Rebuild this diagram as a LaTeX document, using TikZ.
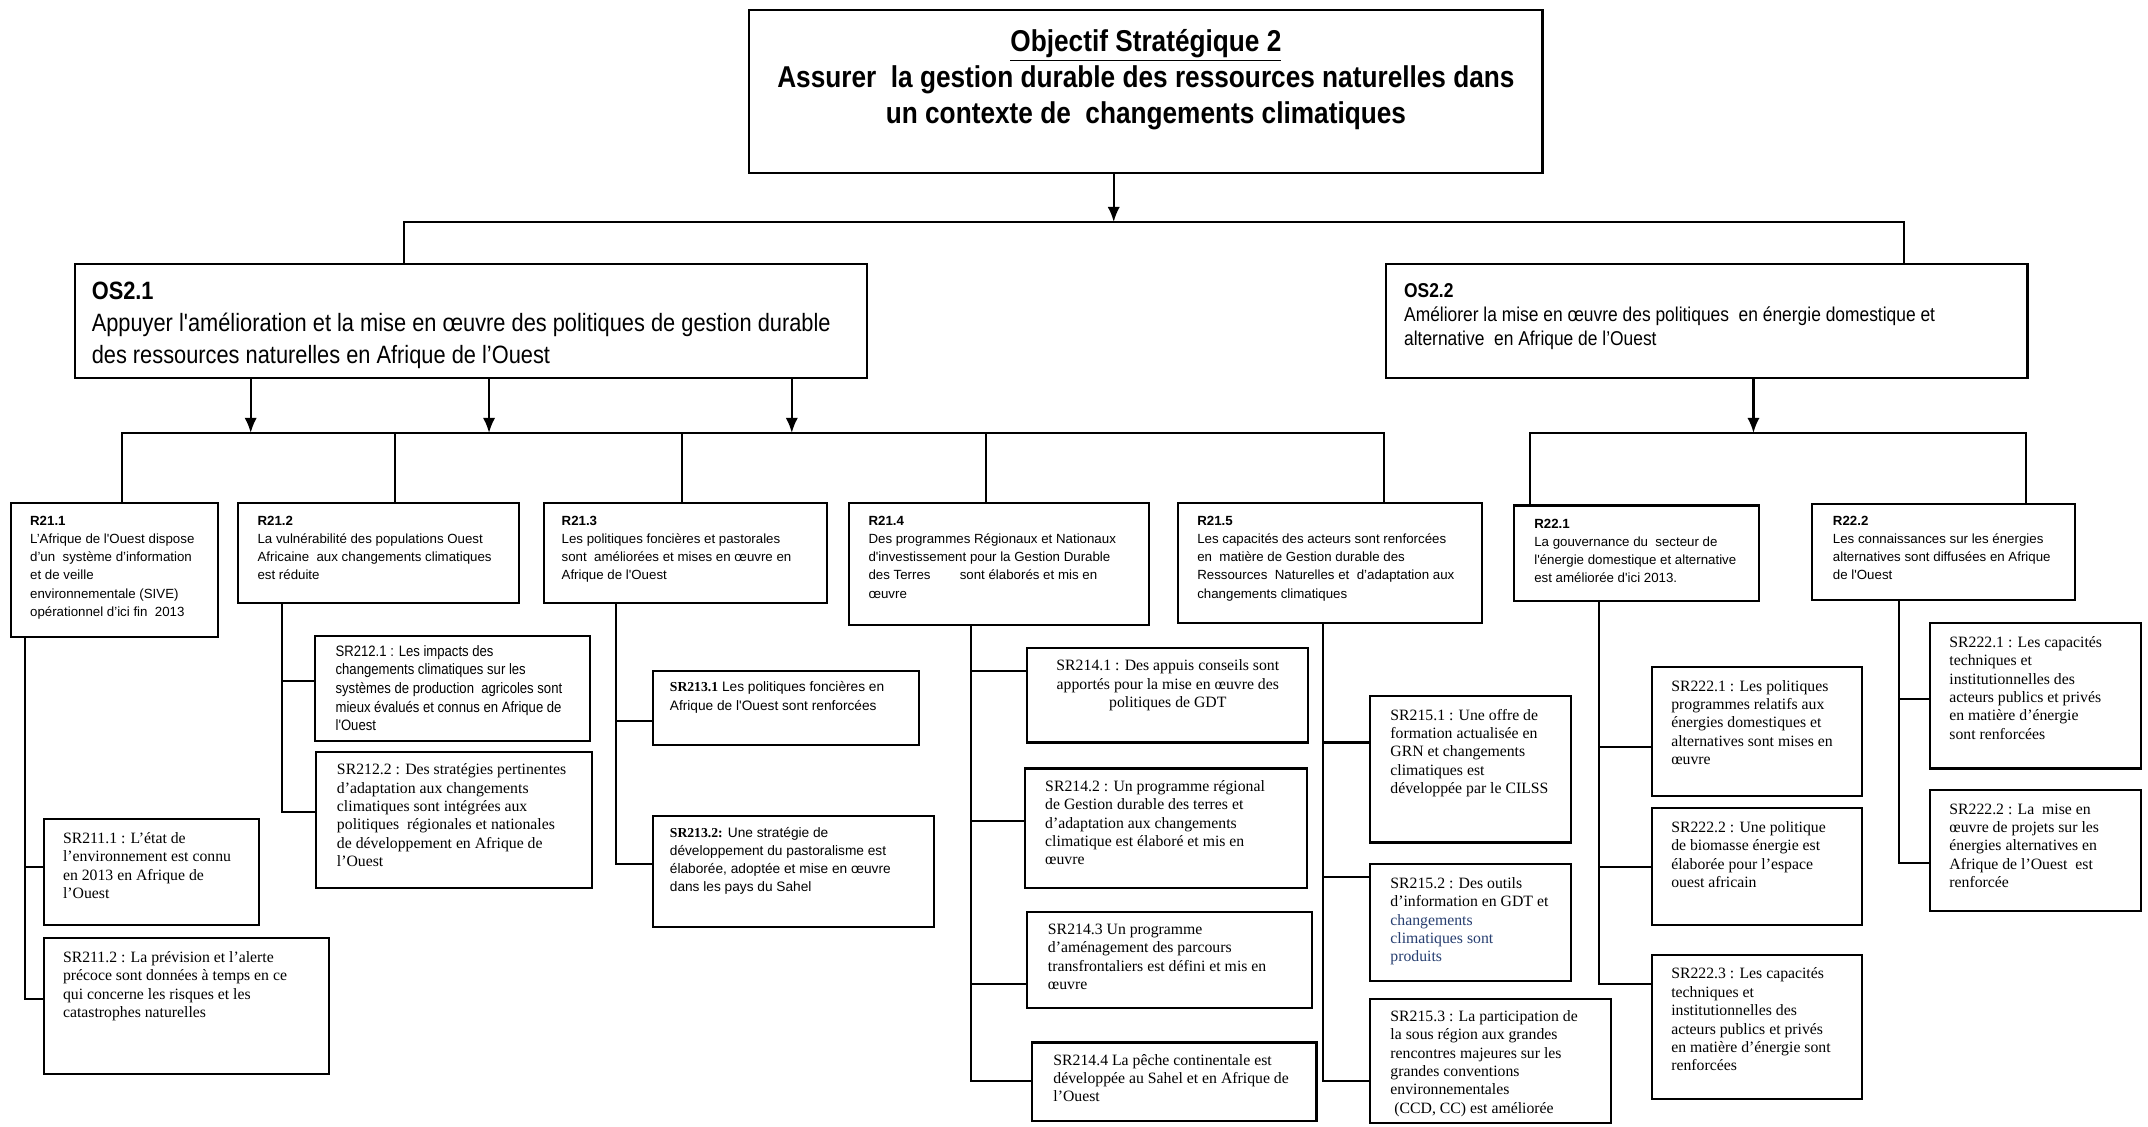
\documentclass[tikz,border=0pt]{standalone}
\usepackage{fontspec}
\usetikzlibrary{arrows.meta}
\newfontfamily\fsans{Liberation Sans}
\newfontfamily\fnarrow[FakeStretch=0.87]{Liberation Sans}
\newfontfamily\fserif{Liberation Serif}
\definecolor{sblue}{RGB}{38,62,112}
\newcommand\mkbx[5]{\node[bx, minimum width={#4-#2}, minimum height={#5-#3}] (#1) at (#2,#3) {};}
\begin{document}
\begin{tikzpicture}[x=1pt,y=-1pt,
 bx/.style={draw, line width=1.5pt, anchor=north west, inner sep=0pt, outer sep=0pt},
 wire/.style={line width=1.5pt},
 arr/.style={line width=1.5pt, -{Latex[length=11pt,width=9pt]}},
 txt/.style={anchor=north west, inner sep=0pt, outer sep=0pt, align=left, execute at begin node=\strut},
 rt/.style={txt, font=\fsans\fontsize{9.7}{13.3}\selectfont, yshift=9.31pt},
 st/.style={txt, font=\fserif\fontsize{11.5}{13.4}\selectfont, yshift=9.38pt},
 atx/.style={txt, font=\fsans\fontsize{10}{13.3}\selectfont, yshift=9.31pt},
 nt/.style={txt, font=\fnarrow\fontsize{11}{13.6}\selectfont, yshift=9.52pt}]
\useasboundingbox (0,0) rectangle (1568,822);
\fill[white] (0,0) rectangle (1568,822);

% ---------- top ----------
\mkbx{top}{547}{7}{1126}{126}
\node[txt, anchor=north, align=center, font=\fnarrow\bfseries\fontsize{22}{26}\selectfont, yshift=18.2pt] (topt) at (836.5,40)
 {\underline{Objectif Stratégique 2}\\Assurer\ \ la gestion durable des ressources naturelles dans\\un contexte de\ \ changements climatiques};

% ---------- OS boxes ----------
\mkbx{os21}{55}{193}{633}{276}
\node[txt, font=\fnarrow\fontsize{18.3}{23.5}\selectfont, yshift=16.45pt] (os21t) at (67,222)
 {\textbf{OS2.1}\\Appuyer l'amélioration et la mise en œuvre des politiques de gestion durable\\des ressources naturelles en Afrique de l’Ouest};
\mkbx{os22}{1012}{193}{1480}{276}
\node[txt, font=\fnarrow\fontsize{14.6}{17.5}\selectfont, yshift=12.25pt] (os22t) at (1025,219)
 {\textbf{OS2.2}\\Améliorer la mise en œuvre des politiques\ \ en énergie domestique et\\alternative\ \ en Afrique de l’Ouest};

% ---------- R boxes ----------
\mkbx{r211}{8}{367}{159}{465}
\node[rt] (r211t) at (22,386) {\textbf{R21.1}\\L’Afrique de l'Ouest dispose\\d’un\ \ système d’information\\et de veille\\environnementale (SIVE)\\opérationnel d’ici fin\ \ 2013};
\mkbx{r212}{174}{367}{379}{440}
\node[rt] (r212t) at (188,386) {\textbf{R21.2}\\La vulnérabilité des populations Ouest\\Africaine\ \ aux changements climatiques\\est réduite};
\mkbx{r213}{397}{367}{604}{440}
\node[rt] (r213t) at (410,386) {\textbf{R21.3}\\Les politiques foncières et pastorales\\sont\ \ améliorées et mises en œuvre en\\Afrique de l'Ouest};
\mkbx{r214}{620}{367}{839}{456}
\node[rt] (r214t) at (634,386) {\textbf{R21.4}\\Des programmes Régionaux et Nationaux\\d'investissement pour la Gestion Durable\\des Terres\hspace{2.2em}sont élaborés et mis en\\œuvre};
\mkbx{r215}{860}{367}{1082}{455}
\node[rt] (r215t) at (874,386) {\textbf{R21.5}\\Les capacités des acteurs sont renforcées\\en\ \ matière de Gestion durable des\\Ressources\ \ Naturelles et\ \ d’adaptation aux\\changements climatiques};
\mkbx{r221}{1105}{369}{1284}{439}
\node[rt] (r221t) at (1120,388) {\textbf{R22.1}\\La gouvernance du\ \ secteur de\\l'énergie domestique et alternative\\est améliorée d'ici 2013.};
\mkbx{r222}{1323}{368}{1515}{438}
\node[rt] (r222t) at (1338,386) {\textbf{R22.2}\\Les connaissances sur les énergies\\alternatives sont diffusées en Afrique\\de l'Ouest};

% ---------- SR boxes ----------
\mkbx{sr2111}{32}{598}{189}{675}
\node[st] (sr2111t) at (46,617) {SR211.1 : L’état de\\l’environnement est connu\\en 2013 en Afrique de\\l’Ouest};
\mkbx{sr2112}{32}{685}{240}{784}
\node[st] (sr2112t) at (46,704) {SR211.2 : La prévision et l’alerte\\précoce sont données à temps en ce\\qui concerne les risques et les\\catastrophes naturelles};

\begin{scope}
\clip (230,464) rectangle (431,534);
\node[nt] (sr2121t) at (245,480.6) {SR212.1 : Les impacts des\\changements climatiques sur les\\systèmes de production\ \ agricoles sont\\mieux évalués et connus en Afrique de\\l'Ouest};
\end{scope}
\mkbx{sr2121}{230}{464}{431}{541}
\mkbx{sr2122}{231}{549}{432}{648}
\node[st] (sr2122t) at (246,567) {SR212.2 : Des stratégies pertinentes\\d’adaptation aux changements\\climatiques sont intégrées aux\\politiques\ \ régionales et nationales\\de développement en Afrique de\\l’Ouest};

\mkbx{sr2131}{477}{490}{671}{544}
\node[atx] (sr2131t) at (489,507) {{\fserif\bfseries SR213.1} Les politiques foncières en\\Afrique de l'Ouest sont renforcées};
\mkbx{sr2132}{477}{596}{682}{677}
\node[atx] (sr2132t) at (489,613) {{\fserif\bfseries SR213.2:} Une stratégie de\\développement du pastoralisme est\\élaborée, adoptée et mise en œuvre\\dans les pays du Sahel};

\mkbx{sr2141}{750}{473}{955}{542}
\node[st, anchor=north, align=center] (sr2141t) at (852.5,491) {SR214.1 : Des appuis conseils sont\\apportés pour la mise en œuvre des\\politiques de GDT};
\mkbx{sr2142}{748}{561}{954}{648}
\node[st] (sr2142t) at (763,579) {SR214.2 : Un programme régional\\de Gestion durable des terres et\\d’adaptation aux changements\\climatique est élaboré et mis en\\œuvre};
\mkbx{sr2143}{750}{666}{958}{736}
\node[st] (sr2143t) at (765,684) {SR214.3 Un programme\\d’aménagement des parcours\\transfrontaliers est défini et mis en\\œuvre};
\mkbx{sr2144}{753}{761}{961}{818}
\node[st] (sr2144t) at (769,779) {SR214.4 La pêche continentale est\\développée au Sahel et en Afrique de\\l’Ouest};

\mkbx{sr2151}{1000}{508}{1147}{615}
\node[st] (sr2151t) at (1015,527) {SR215.1 : Une offre de\\formation actualisée en\\GRN et changements\\climatiques est\\développée par le CILSS};
\mkbx{sr2152}{1000}{631}{1147}{716}
\node[st] (sr2152t) at (1015,650) {SR215.2 : Des outils\\d’information en GDT et\\\textcolor{sblue}{changements}\\\textcolor{sblue}{climatiques sont}\\\textcolor{sblue}{produits}};
\mkbx{sr2153}{1000}{729}{1176}{820}
\node[st] (sr2153t) at (1015,747) {SR215.3 : La participation de\\la sous région aux grandes\\rencontres majeures sur les\\grandes conventions\\environnementales\\\hspace*{0.25em}(CCD, CC) est améliorée};

\mkbx{sr2221}{1206}{487}{1359}{581}
\node[st] (sr2221t) at (1220,506) {SR222.1 : Les politiques\\programmes relatifs aux\\énergies domestiques et\\alternatives sont mises en\\œuvre};
\mkbx{sr2222}{1206}{590}{1359}{675}
\node[st] (sr2222t) at (1220,609) {SR222.2 : Une politique\\de biomasse énergie est\\élaborée pour l’espace\\ouest africain};
\mkbx{sr2223}{1206}{697}{1359}{802}
\node[st] (sr2223t) at (1220,716) {SR222.3 : Les capacités\\techniques et\\institutionnelles des\\acteurs publics et privés\\en matière d’énergie sont\\renforcées};

\mkbx{sr2224}{1409}{455}{1563}{561}
\node[st] (sr2224t) at (1423,474) {SR222.1 : Les capacités\\techniques et\\institutionnelles des\\acteurs publics et privés\\en matière d’énergie\\sont renforcées};
\mkbx{sr2225}{1409}{577}{1563}{665}
\node[st] (sr2225t) at (1423,596) {SR222.2 : La\ \ mise en\\œuvre de projets sur les\\énergies alternatives en\\Afrique de l’Ouest\ \ est\\renforcée};

% ---------- upper connectors ----------
\coordinate (tj) at (813,162);
\coordinate (tbl) at (295,162);
\coordinate (tbr) at (1390,162);
\draw[arr] (top.south -| tj) -- (tj);
\draw[wire] (os21.north -| tbl) -- (tbl) -- (tbr) -- (os22.north -| tbr);

\coordinate (a1) at (183,316);
\coordinate (a2) at (357,316);
\coordinate (a3) at (578,316);
\coordinate (a4) at (1280,316);
\draw[arr] (os21.south -| a1) -- (a1);
\draw[arr] (os21.south -| a2) -- (a2);
\draw[arr] (os21.south -| a3) -- (a3);
\draw[arr] (os22.south -| a4) -- (a4);

\coordinate (b1) at (89,316);
\coordinate (b2) at (288,316);
\coordinate (b3) at (498,316);
\coordinate (b4) at (720,316);
\coordinate (b5) at (1010,316);
\draw[wire] (r211.north -| b1) -- (b1) -- (b5) -- (r215.north -| b5);
\draw[wire] (b2) -- (r212.north -| b2);
\draw[wire] (b3) -- (r213.north -| b3);
\draw[wire] (b4) -- (r214.north -| b4);

\coordinate (c1) at (1117,316);
\coordinate (c2) at (1479,316);
\draw[wire] (r221.north -| c1) -- (c1) -- (c2) -- (r222.north -| c2);

% ---------- lower connectors ----------
\coordinate (j11) at (18,633);
\coordinate (j12) at (18,729);
\draw[wire] (r211.south -| j11) -- (j12) -- (j12 -| sr2112.west);
\draw[wire] (j11) -- (j11 -| sr2111.west);

\coordinate (j21) at (206,497);
\coordinate (j22) at (206,593);
\draw[wire] (r212.south -| j21) -- (j22) -- (j22 -| sr2122.west);
\draw[wire] (j21) -- (j21 -| sr2121.west);

\coordinate (j31) at (450,526);
\coordinate (j32) at (450,631);
\draw[wire] (r213.south -| j31) -- (j32) -- (j32 -| sr2132.west);
\draw[wire] (j31) -- (j31 -| sr2131.west);

\coordinate (j41) at (709,490);
\coordinate (j42) at (709,599);
\coordinate (j43) at (709,718);
\coordinate (j44) at (709,789);
\draw[wire] (r214.south -| j41) -- (j44) -- (j44 -| sr2144.west);
\draw[wire] (j41) -- (j41 -| sr2141.west);
\draw[wire] (j42) -- (j42 -| sr2142.west);
\draw[wire] (j43) -- (j43 -| sr2143.west);

\coordinate (j51) at (966,542);
\coordinate (j52) at (966,640);
\coordinate (j53) at (966,789);
\draw[wire] (r215.south -| j51) -- (j53) -- (j53 -| sr2153.west);
\draw[wire] (j51) -- (j51 -| sr2151.west);
\draw[wire] (j52) -- (j52 -| sr2152.west);

\coordinate (k11) at (1167,545);
\coordinate (k12) at (1167,633);
\coordinate (k13) at (1167,718);
\draw[wire] (r221.south -| k11) -- (k13) -- (k13 -| sr2223.west);
\draw[wire] (k11) -- (k11 -| sr2221.west);
\draw[wire] (k12) -- (k12 -| sr2222.west);

\coordinate (k21) at (1386,510);
\coordinate (k22) at (1386,630);
\draw[wire] (r222.south -| k21) -- (k22) -- (k22 -| sr2225.west);
\draw[wire] (k21) -- (k21 -| sr2224.west);
\end{tikzpicture}
\end{document}
